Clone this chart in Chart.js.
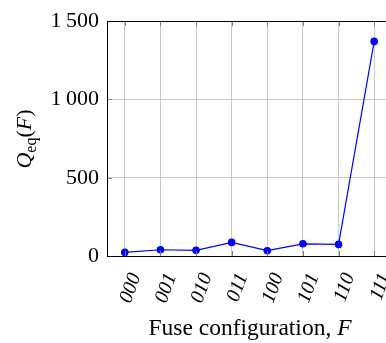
<!DOCTYPE html>
<html>
<head>
<meta charset="utf-8">
<script src="https://cdn.jsdelivr.net/npm/chart.js@4/dist/chart.umd.min.js"></script>
<style>
  html, body { margin: 0; padding: 0; background: #fff; overflow: hidden; }
  canvas { display: block; }
</style>
</head>
<body>
<canvas id="chart" width="400" height="343"></canvas>
<script>
var configs = ["000", "001", "010", "011", "100", "101", "110", "111"];
var qeq = [23, 40, 36, 87, 34, 78, 74, 1371];
var yTicks = [0, 500, 1000, 1500];

var serif = "'Liberation Serif', 'DejaVu Serif', serif";

// draw a line of text made of runs with different fonts
function drawRuns(ctx, runs, cx, cy, rot) {
  ctx.save();
  ctx.translate(cx, cy);
  ctx.rotate(rot);
  var total = 0;
  runs.forEach(function (r) {
    ctx.font = r.font;
    r.w = ctx.measureText(r.text).width;
    total += r.w;
  });
  var x = -total / 2;
  ctx.fillStyle = "#000";
  ctx.textBaseline = "alphabetic";
  ctx.textAlign = "left";
  runs.forEach(function (r) {
    ctx.font = r.font;
    ctx.fillText(r.text, x, r.dy || 0);
    x += r.w;
  });
  ctx.restore();
}

var frame = {
  id: "frame",
  afterDatasetsDraw: function (chart) {
    var ctx = chart.ctx, a = chart.chartArea;
    var xs = chart.scales.x, ys = chart.scales.y;
    ctx.save();
    // inside tick marks
    ctx.strokeStyle = "#808080";
    ctx.lineWidth = 1;
    ctx.beginPath();
    for (var i = 0; i < configs.length; i++) {
      var px = Math.round(xs.getPixelForValue(i)) + 0.5;
      ctx.moveTo(px, a.bottom); ctx.lineTo(px, a.bottom - 5);
      ctx.moveTo(px, a.top); ctx.lineTo(px, a.top + 5);
    }
    yTicks.forEach(function (v) {
      var py = Math.round(ys.getPixelForValue(v)) + 0.5;
      ctx.moveTo(a.left, py); ctx.lineTo(a.left + 5, py);
      ctx.moveTo(a.right, py); ctx.lineTo(a.right - 5, py);
    });
    ctx.stroke();
    // axis box
    ctx.strokeStyle = "#000";
    ctx.lineWidth = 1;
    ctx.strokeRect(Math.round(a.left) + 0.5, Math.round(a.top) + 0.5,
      Math.round(a.right - a.left), Math.round(a.bottom - a.top));
    ctx.restore();
  },
  afterDraw: function (chart) {
    var ctx = chart.ctx;
    drawRuns(ctx, [
      { text: "Fuse configuration, ", font: "23.5px " + serif },
      { text: "F", font: "italic 23.5px " + serif }
    ], 250, 335, 0);
    drawRuns(ctx, [
      { text: "Q", font: "italic 22px " + serif },
      { text: "eq", font: "16px " + serif, dy: 5 },
      { text: "(", font: "22px " + serif },
      { text: "F", font: "italic 22px " + serif },
      { text: ")", font: "22px " + serif }
    ], 31, 139, -Math.PI / 2);
  }
};

new Chart(document.getElementById("chart").getContext("2d"), {
  type: "line",
  data: {
    labels: configs,
    datasets: [{
      data: qeq,
      borderColor: "#0000ff",
      backgroundColor: "#0000ff",
      borderWidth: 1.2,
      pointRadius: 3.2,
      pointHoverRadius: 3.2,
      tension: 0
    }]
  },
  options: {
    responsive: false,
    devicePixelRatio: 1,
    animation: false,
    events: [],
    layout: { padding: { top: 19, right: 8, left: 0, bottom: 0 } },
    plugins: { legend: { display: false }, tooltip: { enabled: false } },
    scales: {
      x: {
        offset: true,
        grid: { offset: false, color: "#c8c8c8", drawTicks: false, tickLength: 0 },
        border: { display: false },
        ticks: {
          minRotation: 70,
          maxRotation: 70,
          padding: 14,
          labelOffset: 11,
          color: "#000",
          font: { family: serif, size: 20, style: "italic" }
        },
        afterFit: function (s) {
          s.height = 87;
          s.paddingLeft = 0;
          s.paddingRight = 0;
        }
      },
      y: {
        min: 0,
        max: 1500,
        afterBuildTicks: function (s) {
          s.ticks = yTicks.map(function (v) { return { value: v }; });
        },
        grid: { color: "#c8c8c8", drawTicks: false, tickLength: 0 },
        border: { display: false },
        ticks: {
          padding: 8,
          color: "#000",
          font: { family: serif, size: 22 },
          callback: function (v) {
            return v >= 1000 ? Math.floor(v / 1000) + "\u2009" + String(v % 1000).padStart(3, "0") : String(v);
          }
        },
        afterFit: function (s) { s.width = 107; }
      }
    }
  },
  plugins: [frame]
});
</script>
</body>
</html>
